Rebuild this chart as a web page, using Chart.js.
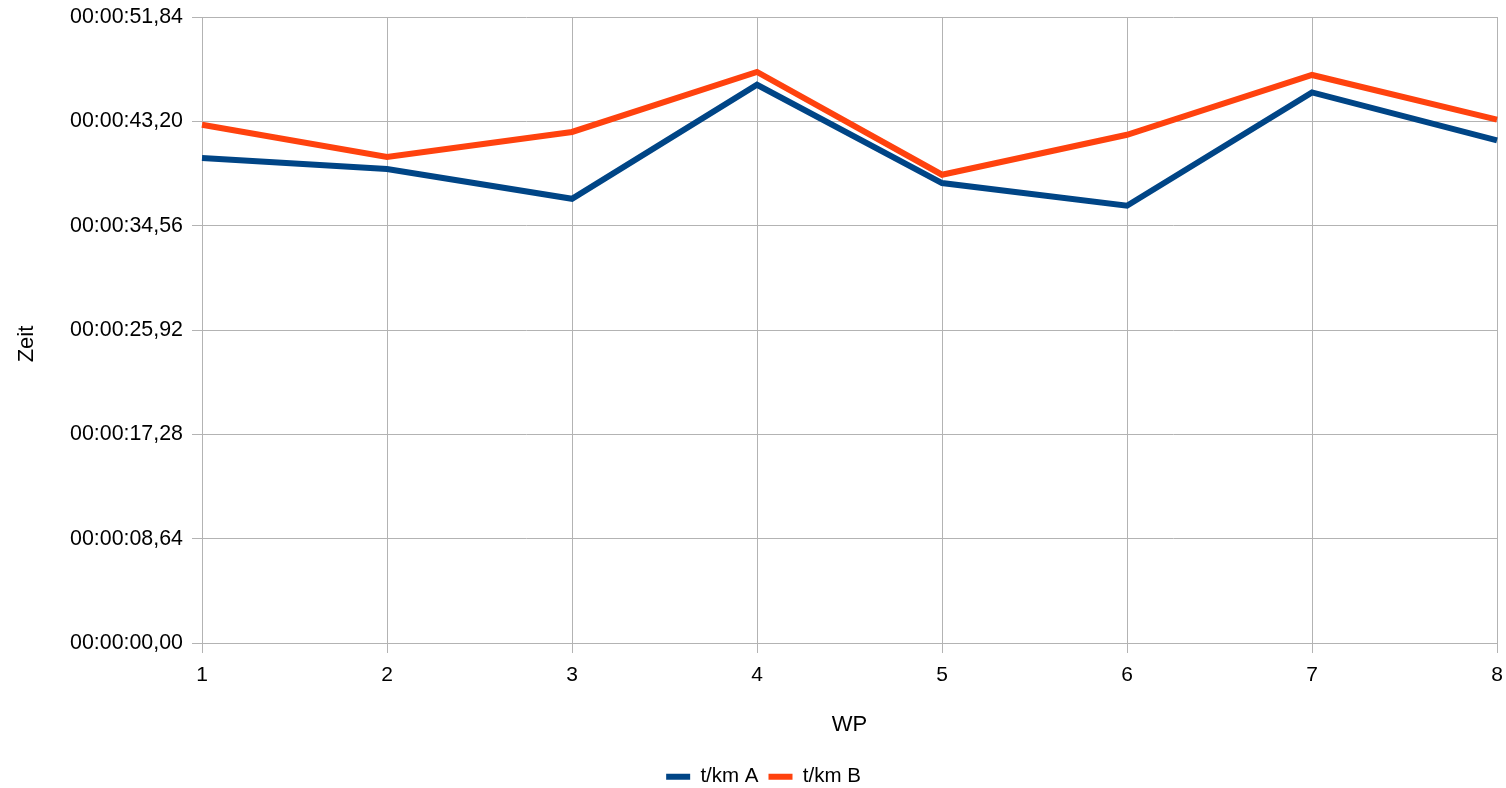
<!DOCTYPE html>
<html>
<head>
<meta charset="utf-8">
<script src="https://cdn.jsdelivr.net/npm/chart.js@4/dist/chart.umd.min.js"></script>
<style>
    html, body { margin: 0; padding: 0; background: #fff; }
    #wrap { width: 1506px; height: 788px; }
</style>
</head>
<body>
<div id="wrap"><canvas id="zeitChart" width="1506" height="788"></canvas></div>
<script>
// WP points and times (seconds per km)
const wpLabels = ['1', '2', '3', '4', '5', '6', '7', '8'];
const tkmA = [40.16, 39.25, 36.79, 46.23, 38.09, 36.21, 45.60, 41.62];
const tkmB = [42.92, 40.25, 42.32, 47.29, 38.78, 42.09, 47.04, 43.34];
const yMax = 51.84;
const yStep = 8.64;

const FONT = 'Liberation Sans, Arial, sans-serif';

function formatZeit(value) {
    const centi = Math.round(value * 100);
    const sec = Math.floor(centi / 100);
    const cc = centi % 100;
    return `00:00:${String(sec).padStart(2, '0')},${String(cc).padStart(2, '0')}`;
}

// small layout tweaks: legend a bit lower/right, y title a bit lower
const layoutTweaks = {
    id: 'layoutTweaks',
    afterLayout(chart) {
        if (chart.legend) {
            chart.legend.top += 9;
            chart.legend.bottom += 9;
            chart.legend.left += 15;
            chart.legend.right += 15;
        }
        const yScale = chart.scales.y;
        if (yScale && !yScale._titleWrapped) {
            const origDrawTitle = yScale.drawTitle;
            yScale.drawTitle = function () {
                const top = this.top;
                const bottom = this.bottom;
                this.top += 14;
                this.bottom += 14;
                origDrawTitle.call(this);
                this.top = top;
                this.bottom = bottom;
            };
            yScale._titleWrapped = true;
        }
    },
};

const ctx = document.getElementById('zeitChart').getContext('2d');
new Chart(ctx, {
    type: 'line',
    data: {
        labels: wpLabels,
        datasets: [
            {
                label: 't/km A',
                data: tkmA,
                borderColor: '#004586',
                backgroundColor: '#004586',
                borderWidth: 6,
                pointRadius: 0,
                tension: 0,
            },
            {
                label: 't/km B',
                data: tkmB,
                borderColor: '#ff420e',
                backgroundColor: '#ff420e',
                borderWidth: 6,
                pointRadius: 0,
                tension: 0,
            },
        ],
    },
    options: {
        responsive: false,
        animation: false,
        layout: { padding: { top: 17, right: 9, left: 0, bottom: 0 } },
        plugins: {
            tooltip: { enabled: false },
            legend: {
                position: 'bottom',
                labels: {
                    color: '#000',
                    font: { family: FONT, size: 20.5 },
                    boxWidth: 24,
                    boxHeight: 6,
                    padding: 10,
                    generateLabels: (chart) => Chart.defaults.plugins.legend.labels.generateLabels(chart)
                        .map((item) => ({ ...item, lineWidth: 0 })),
                },
            },
        },
        scales: {
            x: {
                type: 'category',
                offset: false,
                grid: { color: '#b3b3b3', lineWidth: 1, tickLength: 10 },
                border: { color: '#b3b3b3' },
                ticks: { color: '#000', font: { family: FONT, size: 21 }, padding: 10, maxRotation: 0 },
                title: {
                    display: true,
                    text: 'WP',
                    color: '#000',
                    font: { family: FONT, size: 22 },
                    padding: { top: 10, bottom: 9 },
                },
                afterFit: (scale) => {
                    scale.height = 104.5;
                    scale.paddingLeft = 0;
                    scale.paddingRight = 0;
                },
            },
            y: {
                min: 0,
                max: yMax,
                grid: { color: '#b3b3b3', lineWidth: 1, tickLength: 10 },
                border: { color: '#b3b3b3' },
                ticks: {
                    stepSize: yStep,
                    color: '#000',
                    font: { family: FONT, size: 21.4 },
                    padding: 9,
                    callback: (value) => formatZeit(value),
                },
                title: {
                    display: true,
                    text: 'Zeit',
                    color: '#000',
                    font: { family: FONT, size: 22 },
                    padding: { top: 14, bottom: 0 },
                },
                afterFit: (scale) => {
                    scale.width = 202;
                    scale.paddingTop = 0;
                    scale.paddingBottom = 0;
                },
            },
        },
    },
    plugins: [layoutTweaks],
});
</script>
</body>
</html>
